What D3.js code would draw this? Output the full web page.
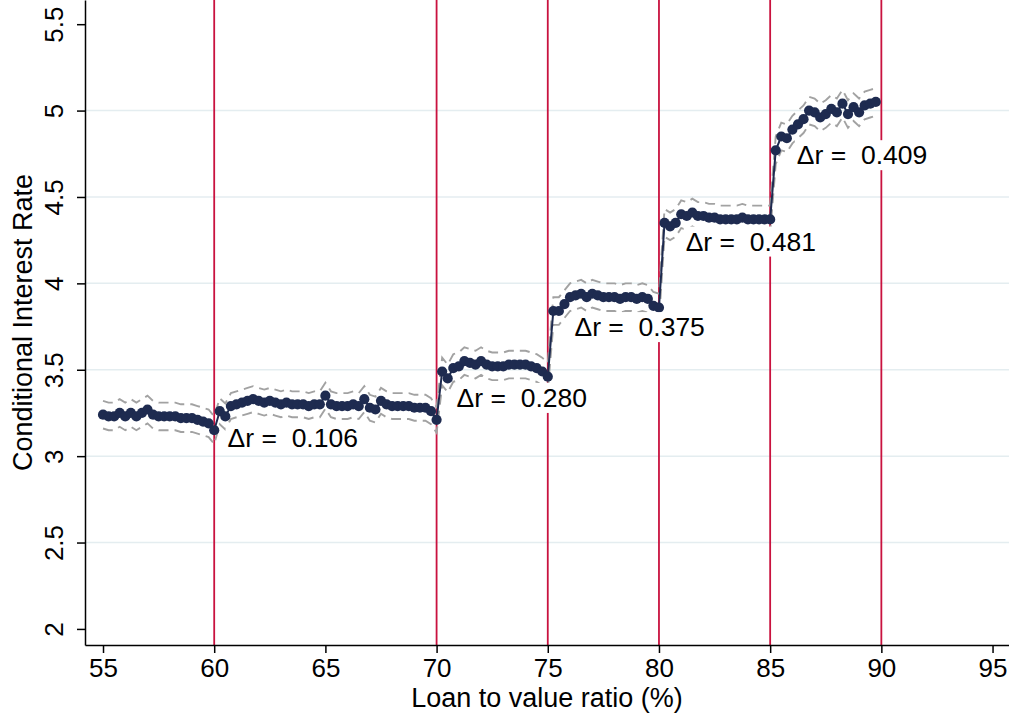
<!DOCTYPE html>
<html>
<head>
<meta charset="utf-8">
<script src="https://cdn.jsdelivr.net/npm/d3@7"></script>
<style>
  body { margin: 0; background: #fff; }
  svg { display: block; }
  text { font-family: "Liberation Sans", Arial, Helvetica, sans-serif; fill: #000; }
</style>
</head>
<body>
<div id="chart"></div>
<script>
// LTV bins are 0.25 wide; each segment lists the rate per bin starting at segStart
const ltvStep = 0.25;
const segStart = [55, 60.25, 70.25, 75.25, 80.25, 85.25];
const rate55to60 = [3.24, 3.23, 3.23, 3.25, 3.23, 3.25, 3.23, 3.25, 3.27, 3.24, 3.23,
  3.23, 3.23, 3.23, 3.22, 3.22, 3.22, 3.21, 3.20, 3.19, 3.15];
const rate60to70 = [3.26, 3.23, 3.29, 3.30, 3.31, 3.32, 3.33, 3.32, 3.31, 3.32,
  3.31, 3.30, 3.31, 3.30, 3.30, 3.30, 3.29, 3.30, 3.30, 3.35,
  3.30, 3.29, 3.29, 3.29, 3.30, 3.29, 3.33, 3.28, 3.27, 3.32,
  3.30, 3.29, 3.29, 3.29, 3.29, 3.28, 3.28, 3.28, 3.26, 3.21];
const rate70to75 = [3.49, 3.45, 3.51, 3.52, 3.55, 3.54, 3.53, 3.55, 3.53, 3.52,
  3.52, 3.52, 3.53, 3.53, 3.53, 3.53, 3.52, 3.51, 3.49, 3.46];
const rate75to80 = [3.84, 3.84, 3.88, 3.92, 3.93, 3.94, 3.92, 3.94, 3.93, 3.92,
  3.92, 3.92, 3.91, 3.92, 3.92, 3.91, 3.92, 3.91, 3.87, 3.86];
const rate80to85 = [4.35, 4.33, 4.35, 4.40, 4.39, 4.41, 4.39, 4.39, 4.38, 4.38,
  4.37, 4.37, 4.37, 4.37, 4.38, 4.37, 4.37, 4.37, 4.37, 4.37];
const rate85to90 = [4.77, 4.85, 4.84, 4.89, 4.92, 4.95, 5.00, 4.99, 4.96, 4.98,
  5.01, 4.99, 5.04, 4.98, 5.02, 4.99, 5.03, 5.04, 5.05];
// half width of the 95% band in each segment
const ciHalfWidth = [0.08, 0.075, 0.08, 0.08, 0.08, 0.08];

const cutoffs = [60, 70, 75, 80, 85, 90];
const xTicks = [55, 60, 65, 70, 75, 80, 85, 90, 95];
const yTicks = [2, 2.5, 3, 3.5, 4, 4.5, 5, 5.5];
const yGrid = [2.5, 3, 3.5, 4, 4.5, 5];

const jumpText = ["0.106", "0.280", "0.375", "0.481", "0.409"];
const jumpLtv = [60.6, 70.9, 76.2, 81.2, 86.2];
const jumpRate = [3.11, 3.34, 3.75, 4.245, 4.745];

// build the points
const segments = [rate55to60, rate60to70, rate70to75, rate75to80, rate80to85, rate85to90];
const points = [];
segments.forEach((seg, s) => {
  seg.forEach((r, i) => {
    points.push({ltv: segStart[s] + i * ltvStep, rate: r, hw: ciHalfWidth[s]});
  });
});

var margin = {top: 0, right: 0, bottom: 72, left: 85},
    width = 1009 - margin.left - margin.right,
    height = 717 - margin.top - margin.bottom;

var svg = d3.select("#chart")
  .append("svg")
    .attr("width", 1009)
    .attr("height", 717)
  .append("g")
    .attr("transform", "translate(" + margin.left + "," + margin.top + ")");

const x = d3.scaleLinear().domain([54.19, 95.74]).range([0, width]);
const y = d3.scaleLinear().domain([1.907, 5.64]).range([height, 0]);

// gridlines
svg.selectAll(".grid")
  .data(yGrid)
  .join("line")
  .attr("class", "grid")
  .attr("x1", 0).attr("x2", width)
  .attr("y1", d => y(d)).attr("y2", d => y(d))
  .style("stroke", "#e4edf0")
  .style("stroke-width", 1.5);

// cutoff lines
svg.selectAll(".cut")
  .data(cutoffs)
  .join("line")
  .attr("class", "cut")
  .attr("x1", d => x(d)).attr("x2", d => x(d))
  .attr("y1", 0).attr("y2", height)
  .style("stroke", "#c9123f")
  .style("stroke-width", 1.8);

// confidence band
const lineUp = d3.line().x(d => x(d.ltv)).y(d => y(d.rate + d.hw));
const lineLo = d3.line().x(d => x(d.ltv)).y(d => y(d.rate - d.hw));
[lineUp, lineLo].forEach(g => {
  svg.append("path")
    .datum(points)
    .attr("d", g)
    .style("fill", "none")
    .style("stroke", "#a2a2a2")
    .style("stroke-width", 1.9)
    .style("stroke-dasharray", "10,6");
});

// main series
svg.append("path")
  .datum(points)
  .attr("d", d3.line().x(d => x(d.ltv)).y(d => y(d.rate)))
  .style("fill", "none")
  .style("stroke", "#1e2b50")
  .style("stroke-width", 2);

svg.selectAll(".pt")
  .data(points)
  .join("circle")
  .attr("class", "pt")
  .attr("cx", d => x(d.ltv))
  .attr("cy", d => y(d.rate))
  .attr("r", 5.1)
  .style("fill", "#1e2b50");

// jump labels with white box behind
jumpText.forEach((t, i) => {
  const g = svg.append("g");
  const txt = g.append("text")
    .attr("x", x(jumpLtv[i]))
    .attr("y", y(jumpRate[i]))
    .attr("dy", "0.36em")
    .attr("xml:space", "preserve")
    .style("white-space", "pre")
    .style("font-size", "26.5px")
    .text("\u0394r =  " + t);
  const bb = txt.node().getBBox();
  g.insert("rect", "text")
    .attr("x", bb.x - 2).attr("y", bb.y)
    .attr("width", bb.width + 4).attr("height", bb.height)
    .style("fill", "#fff");
});

// axes
const xAxis = svg.append("g")
  .attr("transform", `translate(0,${height})`)
  .call(d3.axisBottom(x).tickValues(xTicks).tickSize(8).tickSizeOuter(0).tickPadding(6));
const yAxis = svg.append("g")
  .call(d3.axisLeft(y).tickValues(yTicks).tickSize(8).tickSizeOuter(0).tickFormat(d3.format("")));

[xAxis, yAxis].forEach(a => {
  a.select(".domain").style("stroke", "#000").style("stroke-width", 1.5);
  a.selectAll(".tick line").style("stroke", "#000").style("stroke-width", 1.5);
  a.selectAll("text").style("font-size", "26px").style("font-family", "Liberation Sans, Arial, sans-serif").style("fill", "#000");
});

yAxis.selectAll(".tick text")
  .attr("x", null).attr("dy", null)
  .attr("text-anchor", "middle")
  .attr("transform", "translate(-22,0) rotate(-90)");

// axis titles
svg.append("text")
  .attr("x", width / 2)
  .attr("y", height + 62)
  .attr("text-anchor", "middle")
  .style("font-size", "27px")
  .text("Loan to value ratio (%)");

svg.append("text")
  .attr("transform", `translate(${-53},${height / 2}) rotate(-90)`)
  .attr("text-anchor", "middle")
  .style("font-size", "27px")
  .text("Conditional Interest Rate");
</script>
</body>
</html>
